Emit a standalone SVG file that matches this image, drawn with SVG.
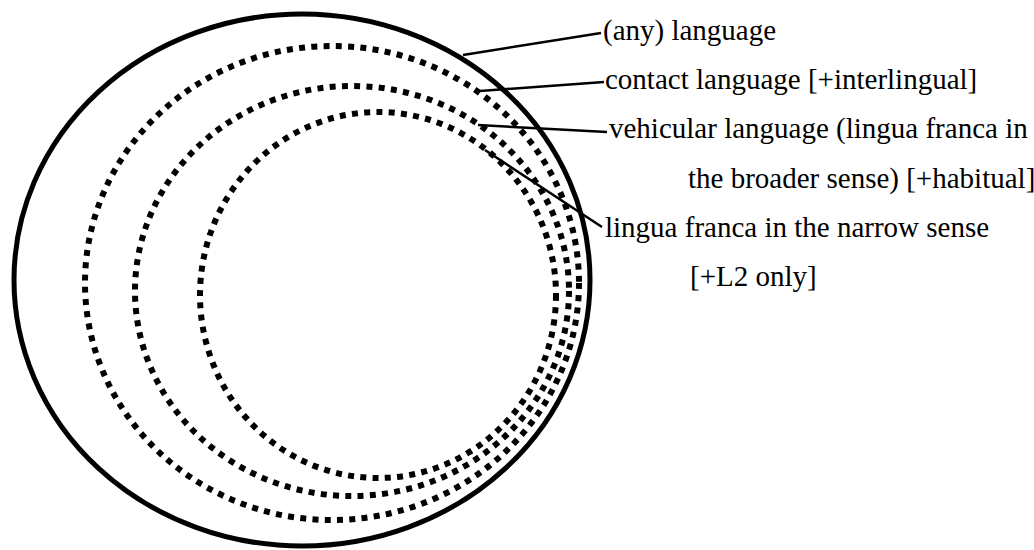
<svg xmlns="http://www.w3.org/2000/svg" width="1034" height="550" viewBox="0 0 1034 550">
<style>
.outer{fill:none;stroke:#000;stroke-width:5}
.dot{fill:none;stroke:#000;stroke-width:6;stroke-dasharray:6 6.3}
.lead{fill:none;stroke:#000;stroke-width:2.5}
.lbl{font-family:"Liberation Serif","Times New Roman",serif;font-size:29px;fill:#000}
</style>
<rect width="1034" height="550" fill="#fff"/>
<g id="any-language"><ellipse class="outer" cx="302" cy="280" rx="288" ry="266"/></g>
<g id="contact-language"><ellipse class="dot" cx="332" cy="283" rx="247" ry="237"/></g>
<g id="vehicular-language"><ellipse class="dot" cx="352" cy="291" rx="217" ry="205"/></g>
<g id="lingua-franca-narrow"><ellipse class="dot" cx="378" cy="295" rx="178" ry="183"/></g>
<g id="connectors">
<line class="lead" x1="463" y1="55" x2="601" y2="33"/>
<line class="lead" x1="480" y1="91" x2="604" y2="82"/>
<line class="lead" x1="478" y1="125" x2="607" y2="132"/>
<line class="lead" x1="485" y1="150" x2="602" y2="227"/>
</g>
<g id="labels">
<text class="lbl" x="603" y="40">(any) language</text>
<text class="lbl" x="605" y="89">contact language [+interlingual]</text>
<text class="lbl" x="609" y="138">vehicular language (lingua franca in</text>
<text class="lbl" x="688" y="188">the broader sense) [+habitual]</text>
<text class="lbl" x="605" y="237">lingua franca in the narrow sense</text>
<text class="lbl" x="690" y="286">[+L2 only]</text>
</g>
</svg>
